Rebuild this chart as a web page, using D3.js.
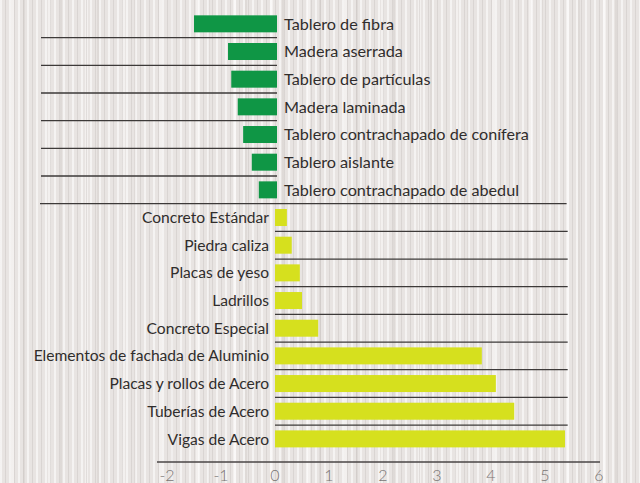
<!DOCTYPE html>
<html>
<head>
<meta charset="utf-8">
<script src="https://cdn.jsdelivr.net/npm/d3@7"></script>
<style>
  html, body { margin: 0; padding: 0; }
  body {
    width: 640px; height: 483px; overflow: hidden;
    background-color: #e8e4e2;
    background-image:
      repeating-linear-gradient(90deg, rgba(255,255,255,0.55) 0 2px, rgba(255,255,255,0) 2px 5px, rgba(190,184,181,0.35) 5px 6px, rgba(255,255,255,0) 6px 9px),
      repeating-linear-gradient(90deg, rgba(255,255,255,0) 0 11px, rgba(250,248,247,0.6) 11px 14px, rgba(255,255,255,0) 14px 23px, rgba(200,194,190,0.3) 23px 25px, rgba(255,255,255,0) 25px 37px);
  }
  svg { display: block; }
  text { font-family: Lato, "Open Sans", sans-serif; }
</style>
</head>
<body>
<svg id="chart" width="640" height="483"></svg>
<script>
// Wood-based materials (negative) and mineral/metal materials (positive)
var woodLabels = ["Tablero de fibra", "Madera aserrada", "Tablero de partículas", "Madera laminada",
                  "Tablero contrachapado de conífera", "Tablero aislante", "Tablero contrachapado de abedul"];
var woodValues = [-1.5, -0.87, -0.81, -0.69, -0.59, -0.43, -0.30];

var otherLabels = ["Concreto Estándar", "Piedra caliza", "Placas de yeso", "Ladrillos", "Concreto Especial",
                   "Elementos de fachada de Aluminio", "Placas y rollos de Acero", "Tuberías de Acero", "Vigas de Acero"];
var otherValues = [0.22, 0.31, 0.46, 0.5, 0.8, 3.83, 4.09, 4.43, 5.37];

var tickValues = [-2, -1, 0, 1, 2, 3, 4, 5, 6];

var svg = d3.select("#chart");

var x = d3.scaleLinear().domain([-2, 6]).range([167, 599]);
var allLabels = woodLabels.concat(otherLabels);
var y = d3.scaleBand()
    .domain(allLabels)
    .range([10, 10 + 16 * 27.67])
    .paddingInner(0.386)
    .paddingOuter(0.193);
var step = y.step();

var wood = woodLabels.map(function(d, i) { return {name: d, value: woodValues[i]}; });
var other = otherLabels.map(function(d, i) { return {name: d, value: otherValues[i]}; });

// separator lines
var top0 = y.range()[0];
var seps = svg.append("g").attr("stroke", "#3d3a39").attr("stroke-width", 1.3);
for (var k = 1; k < 16; k++) {
  var yy = top0 + k * step;
  var x1, x2;
  if (k < 7) { x1 = 41; x2 = x(0) + 2; }
  else if (k === 7) { x1 = 40; x2 = x(5.4); }
  else { x1 = x(0); x2 = x(5.42); }
  seps.append("line").attr("x1", x1).attr("x2", x2).attr("y1", yy).attr("y2", yy);
}

// bars
svg.append("g").selectAll("rect")
    .data(wood)
    .enter()
  .append("rect")
    .attr("x", function(d) { return x(d.value); })
    .attr("y", function(d) { return y(d.name); })
    .attr("width", function(d) { return x(0) + 2 - x(d.value); })
    .attr("height", y.bandwidth())
    .attr("fill", "#0f9645");

svg.append("g").selectAll("rect")
    .data(other)
    .enter()
  .append("rect")
    .attr("x", x(0))
    .attr("y", function(d) { return y(d.name); })
    .attr("width", function(d) { return x(d.value) - x(0); })
    .attr("height", y.bandwidth())
    .attr("fill", "#d6e01e");

// category labels
svg.append("g").selectAll("text")
    .data(wood)
    .enter()
  .append("text")
    .attr("x", x(0) + 9)
    .attr("y", function(d) { return y(d.name) + y.bandwidth() / 2; })
    .attr("dy", "0.36em")
    .attr("font-size", 16.2)
    .attr("fill", "#302d2c")
    .text(function(d) { return d.name; });

svg.append("g").selectAll("text")
    .data(other)
    .enter()
  .append("text")
    .attr("x", x(0) - 6)
    .attr("y", function(d) { return y(d.name) + y.bandwidth() / 2; })
    .attr("dy", "0.36em")
    .attr("text-anchor", "end")
    .attr("font-size", 15.6)
    .attr("fill", "#302d2c")
    .text(function(d) { return d.name; });

// x axis
var axis = svg.append("g").attr("transform", "translate(0,462)");
axis.append("line")
    .attr("x1", x(-2) - 10).attr("x2", x(6) + 1)
    .attr("stroke", "#4a4646").attr("stroke-width", 1.3);
axis.selectAll("text")
    .data(tickValues)
    .enter()
  .append("text")
    .attr("x", function(d) { return x(d); })
    .attr("y", 19)
    .attr("text-anchor", "middle")
    .attr("font-size", 16)
    .attr("font-weight", 300)
    .attr("fill", "#7a7574")
    .text(function(d) { return d; });
</script>
</body>
</html>
